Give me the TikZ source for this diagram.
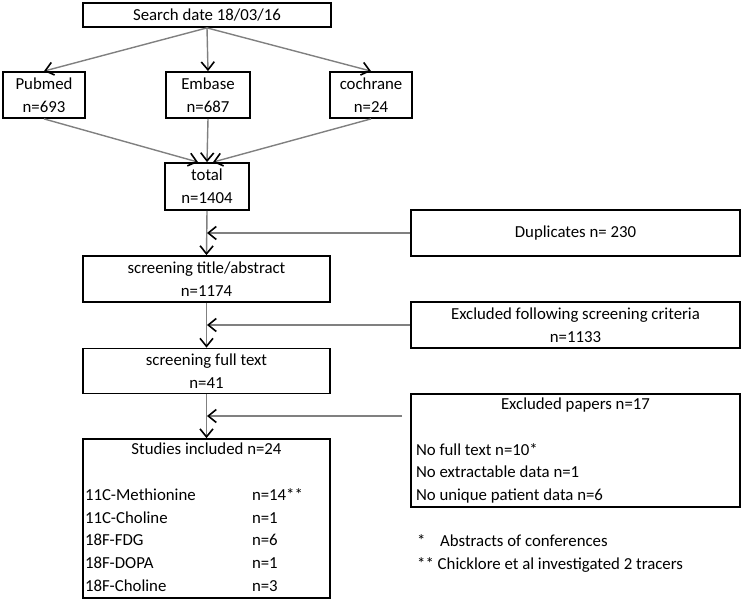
\documentclass[tikz,border=0pt]{standalone}
\usepackage{fontspec}
\setmainfont{Carlito}
\usepackage{tikz}
\usetikzlibrary{arrows.meta}
\usetikzlibrary{calc}

\begin{document}
\begin{tikzpicture}[x=1pt, y=-1pt,
    font=\fontsize{16.8}{22.7}\selectfont,
    box/.style={draw, line width=1.8pt, inner sep=0pt},
    flow/.style={draw=gray, line width=1.4pt,
        -{Straight Barb[length=8pt, width=13pt, line width=1.6pt, color=black]}}]
            \useasboundingbox (0,0) rectangle (742,601);

            \draw (207,15) node[box, minimum width=248pt, minimum height=24pt]                   (search) {Search date 18/03/16};
            \draw (44,95) node[box, minimum width=82pt, minimum height=46pt, align=center]       (pubmed) {Pubmed\\n=693};
            \draw (208,95) node[box, minimum width=84pt, minimum height=46pt, align=center]      (embase) {Embase\\n=687};
            \draw (371,95) node[box, minimum width=82pt, minimum height=46pt, align=center]      (cochrane) {cochrane\\n=24};
            \draw (207,186.5) node[box, minimum width=84pt, minimum height=47pt, align=center]   (total) {total\\n=1404};
            \draw (575.5,233) node[box, minimum width=329pt, minimum height=46pt]               (dupl) {Duplicates n= 230};
            \draw (206.5,279) node[box, minimum width=247pt, minimum height=46pt, align=center] (titleabs) {screening title/abstract\\n=1174};
            \draw (575.5,325) node[box, minimum width=329pt, minimum height=46pt, align=center] (crit) {Excluded following screening criteria\\n=1133};
            \draw (206.5,371) node[box, minimum width=247pt, minimum height=45pt, align=center] (fulltext) {screening full text\\n=41};

            \draw (575.5,450.5) node[box] (exclpap) {\begin{tabular}{@{\hspace{5pt}}p{324pt}@{}}
                \multicolumn{1}{@{}c@{}}{Excluded papers n=17}\\
                \\
                No full text n=10*\\
                No extractable data n=1\\
                No unique patient data n=6
            \end{tabular}};
            \draw (206.5,518.5) node[box] (studies) {\begin{tabular}{@{\hspace{2pt}}p{167pt}@{}p{78pt}@{}}
                \multicolumn{2}{@{}c@{}}{Studies included n=24}\\
                \\
                11C-Methionine & n=14**\\
                11C-Choline & n=1\\
                18F-FDG & n=6\\
                18F-DOPA & n=1\\
                18F-Choline & n=3
            \end{tabular}};
            \draw (417,553.5) node[anchor=west, inner sep=0pt, align=left] (notes) {\makebox[23pt][l]{*}Abstracts of conferences\\** Chicklore et al investigated 2 tracers};

            \coordinate (papin) at ([yshift=34.5pt]exclpap.west);

            \draw[flow] (search.south) -- (pubmed.north);
            \draw[flow] (search.south) -- (embase.north);
            \draw[flow] (search.south) -- (cochrane.north);
            \draw[flow] (pubmed.south) -- ([xshift=-9pt]total.north);
            \draw[flow] (embase.south) -- (total.north);
            \draw[flow] (cochrane.south) -- ([xshift=6pt]total.north);

            \draw[flow] (total.south) -- (titleabs.north);
            \draw[flow] (titleabs.south) -- (fulltext.north);
            \draw[flow] (fulltext.south) -- (studies.north);

            \draw[flow] (dupl.west) -- (dupl.west -| total.south);
            \draw[flow] (crit.west) -- (crit.west -| total.south);
            \draw[flow, shorten <=8pt] (papin) -- (papin -| total.south);

            \end{tikzpicture}
\end{document}
